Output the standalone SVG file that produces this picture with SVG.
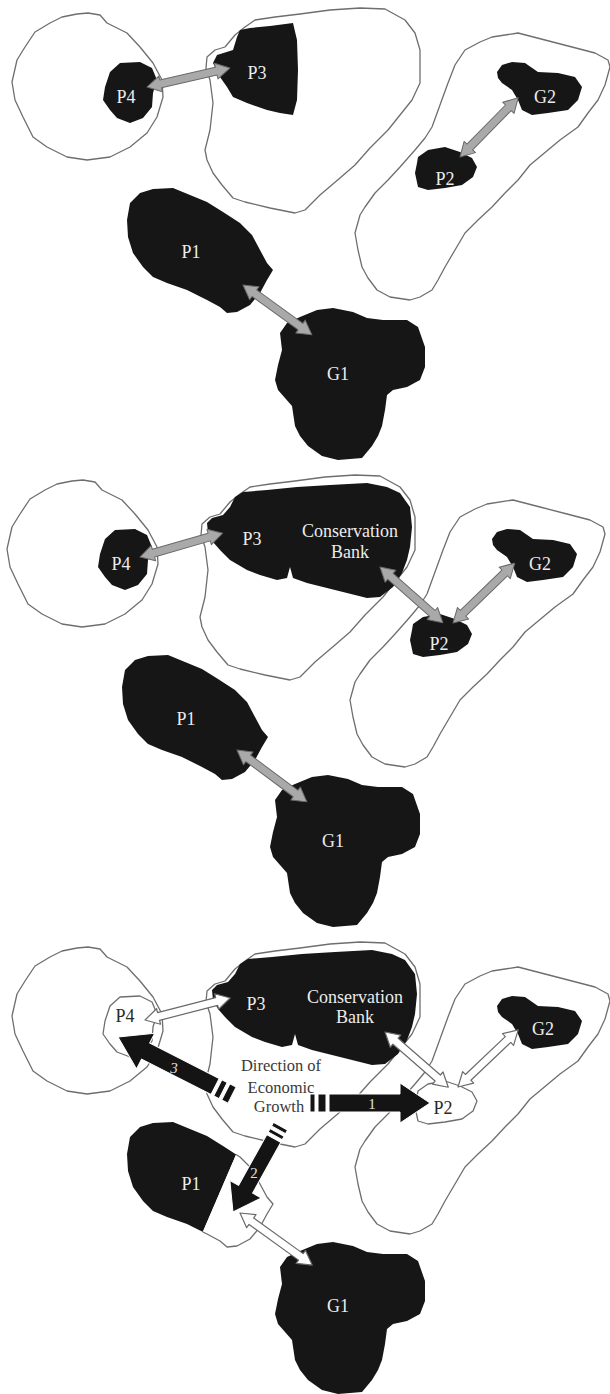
<svg xmlns="http://www.w3.org/2000/svg" xmlns:xlink="http://www.w3.org/1999/xlink" width="610" height="1394" viewBox="0 0 610 1394">
<style>
.parcel{fill:none;stroke:#6e6e6e;stroke-width:1.3;stroke-linejoin:round}
.blk{fill:#161616}
.dev{fill:#fff;stroke:#6e6e6e;stroke-width:1.3;stroke-linejoin:round}
.lbl{font-family:"Liberation Serif","Times New Roman",serif;font-size:18px;fill:#ececec;text-anchor:middle}
.lbld{font-family:"Liberation Serif","Times New Roman",serif;font-size:18px;fill:#2a2a2a;text-anchor:middle}
.dir{font-family:"Liberation Serif","Times New Roman",serif;font-size:16.5px;fill:#3a3a3a;text-anchor:middle}
.num{font-family:"Liberation Serif","Times New Roman",serif;font-size:15px;fill:#e0e0e0;text-anchor:middle}
.ga{fill:#a9a9a9;stroke:#6a6a6a;stroke-width:1;stroke-linejoin:round}
.wa{fill:#fff;stroke:#6a6a6a;stroke-width:1.2;stroke-linejoin:round}
.ba{fill:#141414;stroke:#fff;stroke-width:1}
</style>
<defs>
<path id="parcel4" d="M12,82 L17,60 L25,47 L35,32 L50,23 L62,17 L77,14 L88,13 L100,15 L107,23 L127,33 L140,47 L153,63 L162,80 L163,97 L157,117 L147,133 L130,147 L110,157 L87,160 L67,157 L47,147 L33,137 L23,117 L15,100 Z"/>
<path id="blob4" d="M110,72 L120,63 L140,62 L152,68 L157,80 L153,93 L152,107 L143,118 L130,123 L117,118 L110,110 L103,100 L105,87 L108,78 Z"/>
<path id="parcel3" d="M207,57 L215,50 L225,47 L235,35 L245,27 L255,20 L275,17 L300,14 L330,10 L360,8 L385,9 L405,20 L415,33 L420,50 L420,83 L412,100 L400,115 L388,130 L370,148 L355,165 L340,178 L320,195 L305,210 L295,213 L270,208 L245,202 L233,198 L222,185 L213,173 L207,160 L205,150 L210,130 L213,103 L210,80 L206,68 Z"/>
<path id="blob3s" d="M213,63 L217,55 L233,50 L237,37 L240,30 L250,28 L270,26 L293,23 L297,40 L298,70 L297,100 L293,115 L280,113 L267,110 L247,103 L233,97 L227,87 L220,77 Z"/>
<path id="blob3cb" d="M212,56 L217,51 L228,48 L235,40 L240,30 L248,25 L272,23 L302,20 L335,18 L372,16 L392,20 L405,26 L415,40 L417,60 L415,80 L412,93 L407,106 L398,120 L385,130 L372,131 L352,126 L332,121 L312,116 L298,111 L295,100 L292,111 L282,113 L265,108 L252,103 L235,93 L225,83 L218,75 L213,66 Z"/>
<path id="parcel2" d="M465,50 L480,42 L492,37 L518,33 L545,40 L572,47 L595,53 L608,60 L610,67 L605,85 L598,100 L588,113 L578,127 L560,140 L548,150 L530,165 L518,180 L505,193 L492,207 L478,220 L465,233 L455,250 L445,267 L438,280 L432,290 L420,297 L410,300 L390,297 L377,290 L368,278 L362,267 L358,250 L355,233 L360,215 L365,207 L375,193 L388,180 L400,167 L415,150 L425,138 L432,127 L440,105 L448,83 L455,65 Z"/>
<path id="blobG2" d="M497,72 L502,65 L512,62 L525,63 L538,72 L558,73 L575,77 L582,87 L578,100 L568,110 L548,113 L532,115 L522,110 L518,100 L512,90 L502,83 L498,78 Z"/>
<path id="blob2" d="M418,157 L428,150 L445,147 L460,152 L472,158 L477,167 L473,177 L462,185 L445,188 L428,190 L418,187 L415,173 L417,163 Z"/>
<path id="blobP1" d="M127,220 L130,203 L140,193 L153,189 L173,188 L190,195 L207,202 L223,212 L240,223 L252,235 L260,250 L267,263 L273,270 L267,280 L260,293 L250,305 L237,312 L227,313 L220,307 L207,300 L187,290 L167,283 L153,277 L143,267 L133,253 L128,237 Z"/>
<path id="blobG1" d="M280,333 L287,323 L300,317 L317,310 L333,308 L353,312 L367,318 L383,320 L407,320 L418,327 L425,347 L425,367 L420,380 L407,387 L393,390 L387,395 L385,410 L382,426 L378,436 L372,446 L362,458 L338,460 L322,456 L308,446 L300,436 L295,426 L292,406 L285,398 L278,390 L275,380 L278,365 L282,350 Z"/>
<clipPath id="p1left"><polygon points="100,180 253.5,180 189,330 100,330"/></clipPath>
<clipPath id="p1right"><polygon points="253.5,180 300,180 300,330 189,330"/></clipPath>
</defs>

<!-- Panel 1 -->
<g id="panel1">
  <g id="p1-parcel-P4"><use xlink:href="#parcel4" class="parcel"/></g>
  <g id="p1-parcel-P3"><use xlink:href="#parcel3" class="parcel"/></g>
  <g id="p1-parcel-P2"><use xlink:href="#parcel2" class="parcel"/></g>
  <g id="p1-P4"><use xlink:href="#blob4" class="blk"/><text class="lbl" x="126" y="103">P4</text></g>
  <g id="p1-P3"><use xlink:href="#blob3s" class="blk"/><text class="lbl" x="257" y="79">P3</text></g>
  <g id="p1-G2"><use xlink:href="#blobG2" class="blk"/><text class="lbl" x="545" y="103">G2</text></g>
  <g id="p1-P2"><use xlink:href="#blob2" class="blk"/><text class="lbl" x="445" y="185">P2</text></g>
  <g id="p1-P1"><use xlink:href="#blobP1" class="blk"/><text class="lbl" x="191" y="258">P1</text></g>
  <g id="p1-G1"><use xlink:href="#blobG1" class="blk"/><text class="lbl" x="338" y="380">G1</text></g>
</g>

<!-- Panel 2 -->
<g id="panel2">
  <g id="p2-parcel-P4"><use xlink:href="#parcel4" class="parcel" transform="translate(-5,467)"/></g>
  <g id="p2-parcel-P3"><use xlink:href="#parcel3" class="parcel" transform="translate(-5,467)"/></g>
  <g id="p2-parcel-P2"><use xlink:href="#parcel2" class="parcel" transform="translate(-5,467)"/></g>
  <g id="p2-P4"><use xlink:href="#blob4" class="blk" transform="translate(-5,467)"/><text class="lbl" x="121" y="570">P4</text></g>
  <g id="p2-P3-bank"><use xlink:href="#blob3cb" class="blk" transform="translate(-5,467)"/><text class="lbl" x="252" y="545">P3</text><text class="lbl" x="350" y="537">Conservation</text><text class="lbl" x="350" y="558">Bank</text></g>
  <g id="p2-G2"><use xlink:href="#blobG2" class="blk" transform="translate(-5,467)"/><text class="lbl" x="540" y="570">G2</text></g>
  <g id="p2-P2"><use xlink:href="#blob2" class="blk" transform="translate(-5,467)"/><text class="lbl" x="439" y="650">P2</text></g>
  <g id="p2-P1"><use xlink:href="#blobP1" class="blk" transform="translate(-5,467)"/><text class="lbl" x="186" y="725">P1</text></g>
  <g id="p2-G1"><use xlink:href="#blobG1" class="blk" transform="translate(-5,467)"/><text class="lbl" x="333" y="847">G1</text></g>
</g>

<!-- Panel 3 -->
<g id="panel3">
  <g id="p3-parcel-P4"><use xlink:href="#parcel4" class="parcel" transform="translate(0,934)"/></g>
  <g id="p3-parcel-P3"><use xlink:href="#parcel3" class="parcel" transform="translate(0,934)"/></g>
  <g id="p3-parcel-P2"><use xlink:href="#parcel2" class="parcel" transform="translate(0,934)"/></g>
  <g id="p3-P4"><use xlink:href="#blob4" class="dev" transform="translate(0,934)"/><text class="lbld" x="125" y="1022">P4</text></g>
  <g id="p3-P3-bank"><use xlink:href="#blob3cb" class="blk" transform="translate(0,934)"/><text class="lbl" x="256" y="1010">P3</text><text class="lbl" x="355" y="1003">Conservation</text><text class="lbl" x="355" y="1023">Bank</text></g>
  <g id="p3-G2"><use xlink:href="#blobG2" class="blk" transform="translate(0,934)"/><text class="lbl" x="543" y="1035">G2</text></g>
  <g id="p3-P2"><use xlink:href="#blob2" class="dev" transform="translate(0,934)"/><text class="lbld" x="443" y="1114">P2</text></g>
  <g id="p3-P1"><g transform="translate(0,934)"><use xlink:href="#blobP1" class="blk" clip-path="url(#p1left)"/><use xlink:href="#blobP1" class="dev" clip-path="url(#p1right)"/></g><text class="lbl" x="191" y="1190">P1</text></g>
  <g id="p3-G1"><use xlink:href="#blobG1" class="blk" transform="translate(0,934)"/><text class="lbl" x="338" y="1312">G1</text></g>
  <g id="p3-direction"><text class="dir" x="281" y="1071">Direction of</text><text class="dir" x="281" y="1093">Economic</text><text class="dir" x="279" y="1112">Growth</text></g>
</g>

<g id="connectors">
  <!-- panel 1 gray double arrows -->
  <polygon class="ga" transform="translate(147,87) rotate(-12.9)" points="0,0 14,-8 14,-4 71,-4 71,-8 85,0 71,8 71,4 14,4 14,8"/>
  <polygon class="ga" transform="translate(460,157) rotate(-45.5)" points="0,0 14,-8 14,-4 69,-4 69,-8 83,0 69,8 69,4 14,4 14,8"/>
  <polygon class="ga" transform="translate(243,285) rotate(35.9)" points="0,0 14,-8 14,-4 71,-4 71,-8 85,0 71,8 71,4 14,4 14,8"/>
  <!-- panel 2 -->
  <polygon class="ga" transform="translate(140,557) rotate(-16.1)" points="0,0 14,-8 14,-4 72,-4 72,-8 86,0 72,8 72,4 14,4 14,8"/>
  <polygon class="ga" transform="translate(380,567) rotate(41.6)" points="0,0 14,-8 14,-4 70,-4 70,-8 84,0 70,8 70,4 14,4 14,8"/>
  <polygon class="ga" transform="translate(453,623) rotate(-44.1)" points="0,0 14,-8 14,-4 72,-4 72,-8 86,0 72,8 72,4 14,4 14,8"/>
  <polygon class="ga" transform="translate(237,750) rotate(36.6)" points="0,0 14,-8 14,-4 73,-4 73,-8 87,0 73,8 73,4 14,4 14,8"/>
  <!-- panel 3 white double arrows -->
  <polygon class="wa" transform="translate(145,1020) rotate(-14.5)" points="0,0 14,-8 14,-4 74,-4 74,-8 88,0 74,8 74,4 14,4 14,8"/>
  <polygon class="wa" transform="translate(385,1032) rotate(41.1)" points="0,0 14,-8 14,-4 70,-4 70,-8 84,0 70,8 70,4 14,4 14,8"/>
  <polygon class="wa" transform="translate(458,1087) rotate(-43.5)" points="0,0 14,-8 14,-4 69,-4 69,-8 83,0 69,8 69,4 14,4 14,8"/>
  <polygon class="wa" transform="translate(240,1213) rotate(35.8)" points="0,0 14,-8 14,-4 75,-4 75,-8 89,0 75,8 75,4 14,4 14,8"/>
  <!-- black growth arrows -->
  <g id="growth-arrow-1" transform="translate(430,1103)">
    <polygon class="ba" points="0,0 -30,-20 -30,-9 -101,-9 -101,9 -30,9 -30,20"/>
    <rect class="ba" x="-112" y="-9" width="8" height="18"/>
    <rect class="ba" x="-120" y="-9" width="5" height="18"/>
  </g>
  <g id="growth-arrow-3" transform="translate(118,1037) rotate(207)">
    <polygon class="ba" points="0,0 -31,-20 -31,-9 -109,-9 -109,9 -31,9 -31,20"/>
    <rect class="ba" x="-118" y="-9" width="6" height="18"/>
    <rect class="ba" x="-128" y="-9" width="7" height="18"/>
  </g>
  <g id="growth-arrow-2" transform="translate(233,1212) rotate(119)">
    <polygon class="ba" points="0,0 -26,-18 -26,-8 -84,-8 -84,8 -26,8 -26,18"/>
    <rect class="ba" x="-91" y="-8" width="4" height="16"/>
    <rect class="ba" x="-98" y="-8" width="4" height="16"/>
  </g>
  <text class="num" x="372" y="1109">1</text>
  <text class="num" x="174" y="1073" font-style="italic">3</text>
  <text class="num" x="254" y="1178">2</text>
</g>
</svg>
